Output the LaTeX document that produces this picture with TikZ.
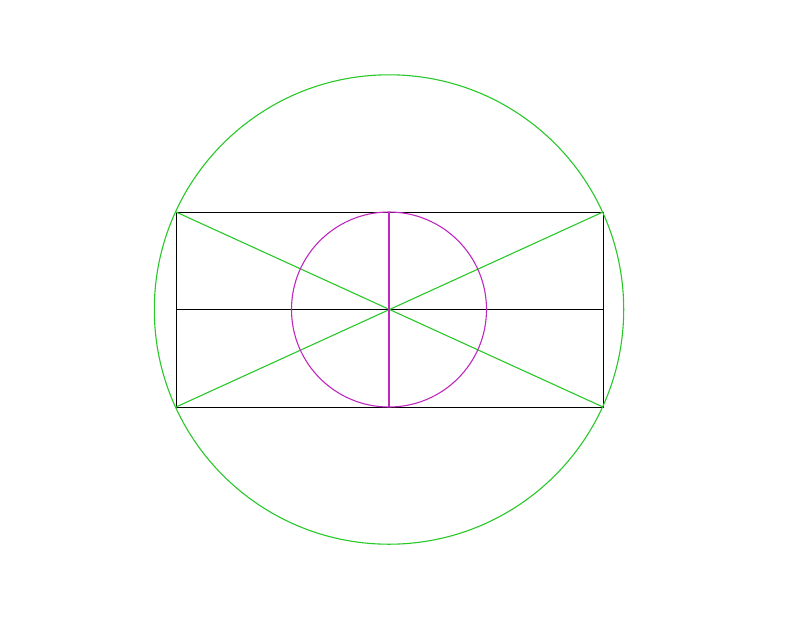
\documentclass[tikz,border=0pt]{standalone}
\definecolor{lgreen}{RGB}{40,200,40}
\definecolor{lmag}{RGB}{190,40,190}
\begin{document}
\begin{tikzpicture}[x=1pt,y=-1pt,
  gline/.style={draw=lgreen,line width=1.1pt},
  mline/.style={draw=lmag,line width=1.1pt},
  kline/.style={draw=black,line width=1pt}]
\useasboundingbox (0,0) rectangle (800,619);
\coordinate (O) at (389,309.5);
\coordinate (A) at (176,212);
\coordinate (B) at (603,212);
\coordinate (C) at (603,407);
\coordinate (D) at (176,407);
\coordinate (L) at (176,309.5);
\coordinate (R) at (603,309.5);
\coordinate (T) at (389,212);
\coordinate (Bt) at (389,407);
\draw[kline] (A) -- (B) -- (C) -- (D) -- cycle;
\draw[kline] (L) -- (R);
\draw[gline] (O) circle[radius=234.7];
\draw[gline] (A) -- (C);
\draw[gline] (B) -- (D);
\draw[mline] (O) circle[radius=97.5];
\draw[mline] (T) -- (Bt);
\end{tikzpicture}
\end{document}
